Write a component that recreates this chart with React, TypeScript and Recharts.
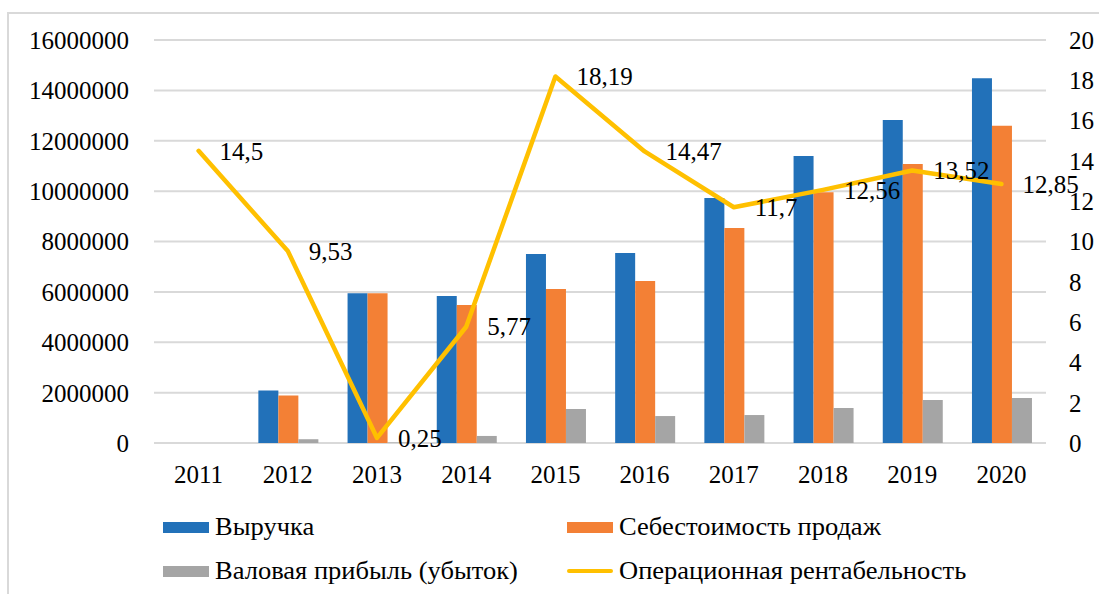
import React from "react";
import {
  ComposedChart,
  Bar,
  Line,
  XAxis,
  YAxis,
  CartesianGrid,
  LabelList,
} from "recharts";

const years = ["2011", "2012", "2013", "2014", "2015", "2016", "2017", "2018", "2019", "2020"];
const revenue = [null, 2080000, 5950000, 5840000, 7500000, 7540000, 9730000, 11390000, 12820000, 14480000];
const costOfSales = [null, 1890000, 5950000, 5480000, 6110000, 6430000, 8540000, 9960000, 11080000, 12600000];
const grossProfit = [null, 150000, 20000, 280000, 1350000, 1070000, 1110000, 1390000, 1710000, 1790000];
const opMargin = [14.5, 9.53, 0.25, 5.77, 18.19, 14.47, 11.7, 12.56, 13.52, 12.85];

const leftTicks = [0, 2000000, 4000000, 6000000, 8000000, 10000000, 12000000, 14000000, 16000000];
const rightTicks = [0, 2, 4, 6, 8, 10, 12, 14, 16, 18, 20];

const seriesNames = ["Выручка", "Себестоимость продаж", "Валовая прибыль (убыток)", "Операционная рентабельность"];
const COLORS = ["#2271B9", "#F38035", "#A5A5A5", "#FFC000"];

const FONT = '"Liberation Serif", "Times New Roman", serif';
const FS = 25;

const data = years.map((year, i) => ({
  year,
  revenue: revenue[i],
  cost: costOfSales[i],
  gross: grossProfit[i],
  margin: opMargin[i],
}));

const fmt = (v: number) => String(v).replace(".", ",");

function LineLabel(props: any) {
  const { x, y, value } = props;
  return (
    <text x={Number(x) + 21} y={Number(y)} dy="0.35em" fontSize={FS} style={{ fontFamily: FONT }} fill="#000">
      {fmt(value)}
    </text>
  );
}

// legend layout: two columns, two rows
const legendPos = [
  { left: 163, top: 527 },
  { left: 567, top: 527 },
  { left: 163, top: 571 },
  { left: 567, top: 571 },
];

export default function App() {
  const tick = { fill: "#000", fontSize: FS, style: { fontFamily: FONT } };
  return (
    <div
      style={{
        position: "fixed",
        left: 0,
        top: 0,
        width: 1099,
        height: 594,
        overflow: "hidden",
        background: "#fff",
        fontFamily: FONT,
      }}
    >
      <div
        style={{
          position: "absolute",
          left: 7,
          top: 12,
          width: 1120,
          height: 620,
          border: "2px solid #d9d9d9",
        }}
      />
      <div style={{ position: "absolute", left: 0, top: 0 }}>
        <ComposedChart
          width={1099}
          height={594}
          data={data}
          margin={{ top: 40, right: 0, left: 0, bottom: 121 }}
          barGap={0}
          barCategoryGap="17%"
          style={{ fontFamily: FONT }}
        >
          <CartesianGrid yAxisId="left" vertical={false} stroke="#d9d9d9" strokeWidth={2} />
          <XAxis
            dataKey="year"
            axisLine={false}
            tickLine={false}
            tickSize={0}
            tickMargin={22}
            height={30}
            interval={0}
            tick={tick}
          />
          <YAxis
            yAxisId="left"
            orientation="left"
            width={154}
            domain={[0, 16000000]}
            ticks={leftTicks}
            interval={0}
            axisLine={false}
            tickLine={false}
            tickSize={0}
            tickMargin={25}
            tick={tick}
          />
          <YAxis
            yAxisId="right"
            orientation="right"
            width={53}
            domain={[0, 20]}
            ticks={rightTicks}
            interval={0}
            axisLine={false}
            tickLine={false}
            tickSize={0}
            tickMargin={23}
            tick={{ ...tick, textAnchor: "start" }}
          />
          <Bar yAxisId="left" dataKey="revenue" name={seriesNames[0]} fill={COLORS[0]} isAnimationActive={false} />
          <Bar yAxisId="left" dataKey="cost" name={seriesNames[1]} fill={COLORS[1]} isAnimationActive={false} />
          <Bar yAxisId="left" dataKey="gross" name={seriesNames[2]} fill={COLORS[2]} isAnimationActive={false} />
          <Line
            yAxisId="right"
            type="linear"
            dataKey="margin"
            name={seriesNames[3]}
            stroke={COLORS[3]}
            strokeWidth={4.5}
            strokeLinejoin="round"
            strokeLinecap="round"
            dot={false}
            activeDot={false}
            isAnimationActive={false}
          >
            <LabelList dataKey="margin" content={<LineLabel />} />
          </Line>
        </ComposedChart>
      </div>
      {seriesNames.map((name, i) => (
        <div
          key={name}
          style={{
            position: "absolute",
            left: legendPos[i].left,
            top: legendPos[i].top - 14,
            height: 28,
            display: "flex",
            alignItems: "center",
            fontSize: FS,
            lineHeight: "28px",
            color: "#000",
            whiteSpace: "nowrap",
          }}
        >
          {i < 3 ? (
            <span style={{ display: "inline-block", width: 46, height: 11, background: COLORS[i] }} />
          ) : (
            <span
              style={{ display: "inline-block", width: 46, height: 4, borderRadius: 2, background: COLORS[i] }}
            />
          )}
          <span style={{ marginLeft: 6, display: "inline-block", transform: "scaleX(1.06)", transformOrigin: "left center" }}>
            {name}
          </span>
        </div>
      ))}
    </div>
  );
}
